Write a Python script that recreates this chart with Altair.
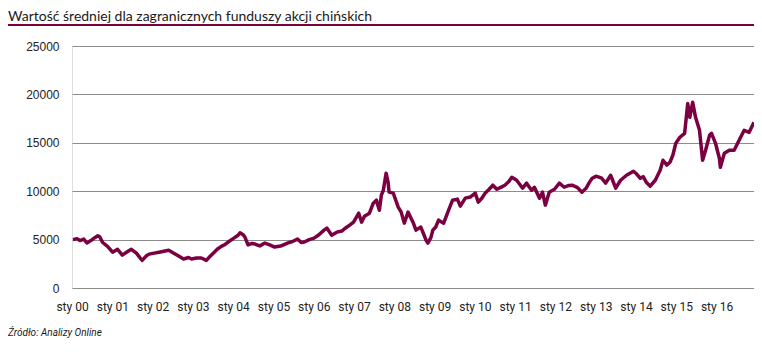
import altair as alt
import pandas as pd

TITLE = "Wartość średniej dla zagranicznych funduszy akcji chińskich"
SOURCE = "Źródło: Analizy Online"

dates = [
    "2000-01-10", "2000-02-15", "2000-03-13", "2000-04-17", "2000-05-15", "2000-06-20",
    "2000-07-25", "2000-08-22", "2000-09-08", "2000-10-05", "2000-11-18", "2001-01-03",
    "2001-02-17", "2001-04-01", "2001-05-16", "2001-06-22", "2001-08-07", "2001-09-10",
    "2001-09-28", "2001-11-03", "2001-11-30", "2002-01-15", "2002-03-01", "2002-04-13",
    "2002-05-27", "2002-07-12", "2002-08-25", "2002-10-08", "2002-11-23", "2002-12-20",
    "2003-02-03", "2003-03-19", "2003-05-03", "2003-06-09", "2003-07-05", "2003-08-10",
    "2003-09-16", "2003-10-20", "2003-11-17", "2004-01-01", "2004-02-15", "2004-03-03",
    "2004-04-01", "2004-04-17", "2004-05-15", "2004-06-20", "2004-07-17", "2004-08-30",
    "2004-10-15", "2004-11-28", "2005-01-11", "2005-03-06", "2005-05-08", "2005-06-22",
    "2005-08-07", "2005-09-10", "2005-10-07", "2005-11-21", "2006-01-04", "2006-02-17",
    "2006-04-04", "2006-04-30", "2006-06-13", "2006-07-29", "2006-09-12", "2006-10-17",
    "2006-11-23", "2006-12-28", "2007-02-13", "2007-03-11", "2007-04-06", "2007-05-21",
    "2007-06-25", "2007-07-23", "2007-08-19", "2007-09-06", "2007-09-24", "2007-10-19",
    "2007-11-06", "2007-11-15", "2007-12-23", "2008-02-06", "2008-03-04", "2008-04-01",
    "2008-05-05", "2008-06-19", "2008-07-16", "2008-08-29", "2008-09-26", "2008-10-15",
    "2008-11-01", "2008-11-28", "2008-12-16", "2009-01-11", "2009-02-06", "2009-03-24",
    "2009-05-08", "2009-06-13", "2009-07-27", "2009-08-22", "2009-10-06", "2009-11-20",
    "2010-01-04", "2010-02-01", "2010-03-07", "2010-04-04", "2010-05-10", "2010-06-13",
    "2010-07-19", "2010-08-24", "2010-09-30", "2010-11-05", "2010-12-02", "2011-01-15",
    "2011-03-10", "2011-04-15", "2011-05-30", "2011-06-25", "2011-08-10", "2011-09-06",
    "2011-10-02", "2011-11-06", "2011-12-24", "2012-02-06", "2012-03-21", "2012-05-04",
    "2012-06-01", "2012-07-16", "2012-08-29", "2012-10-05", "2012-10-31", "2012-11-27",
    "2013-01-03", "2013-01-30", "2013-02-24", "2013-04-01", "2013-05-16", "2013-06-11",
    "2013-07-01", "2013-08-14", "2013-10-07", "2013-12-09", "2014-01-05", "2014-02-09",
    "2014-03-07", "2014-04-04", "2014-05-10", "2014-06-25", "2014-08-08", "2014-09-03",
    "2014-10-08", "2014-11-05", "2014-12-01", "2014-12-28", "2015-02-03", "2015-03-18",
    "2015-04-15", "2015-05-04", "2015-05-30", "2015-06-25", "2015-07-31", "2015-08-28",
    "2015-09-24", "2015-10-30", "2015-11-17", "2015-12-23", "2016-01-27", "2016-02-05",
    "2016-03-12", "2016-04-26", "2016-06-09", "2016-07-24", "2016-09-08", "2016-10-23",
    "2016-12-06",
]

values = [
    5000, 5100, 4900, 5050, 4650, 4900,
    5200, 5400, 5300, 4700, 4300, 3700,
    4000, 3400, 3750, 4000, 3600, 3100,
    2850, 3300, 3500, 3600, 3700, 3800,
    3900, 3600, 3300, 3000, 3150, 3000,
    3100, 3100, 2850, 3300, 3600, 4000,
    4300, 4500, 4750, 5100, 5450, 5700,
    5500, 5260, 4450, 4600, 4540, 4350,
    4640, 4450, 4230, 4330, 4640, 4800,
    5050, 4700, 4750, 5000, 5150, 5500,
    5980, 6190, 5460, 5770, 5880, 6200,
    6500, 6800, 7730, 6800, 7420, 7730,
    8760, 9070, 8040, 9590, 10100, 11860,
    10930, 9900, 9800, 8350, 7840, 6700,
    7840, 6800, 5980, 6290, 5500, 4950,
    4640, 5200, 5980, 6300, 7010, 6700,
    8040, 9070, 9180, 8450, 9280, 9400,
    9800, 8870, 9300, 9800, 10200, 10620,
    10200, 10400, 10620, 11000, 11440, 11130,
    10310, 10830, 10100, 10410, 9280, 9900,
    8560, 9900, 10200, 10830, 10410, 10600,
    10620, 10400, 9900, 10300, 10830, 11300,
    11550, 11450, 11340, 10830, 11650, 10900,
    10310, 11130, 11650, 12060, 11800, 11340,
    11500, 10930, 10520, 11130, 12160, 13200,
    12700, 12990, 13710, 14950, 15570, 15980,
    19070, 17630, 19180, 17630, 16290, 13200,
    14230, 15770, 15980, 14950, 13400, 12470,
    13920, 14230, 14230, 15260, 16290, 16080,
    17110,
]

y_ticks = [0, 5000, 10000, 15000, 20000, 25000]
x_domain = ["2000-01-01", "2016-12-06"]

COLOR = "#7b0041"
W, H = 682, 242
PAD_L, PAD_T = 64, 38

df = pd.DataFrame({"date": pd.to_datetime(dates), "value": values})

line = alt.Chart(df).mark_line(color=COLOR, strokeWidth=3.5, strokeJoin="round").encode(
    x=alt.X(
        "date:T",
        scale=alt.Scale(domain=x_domain),
        axis=alt.Axis(
            title=None,
            grid=False,
            domain=False,
            ticks=False,
            tickCount={"interval": "year", "step": 1},
            labelExpr="'sty ' + timeFormat(datum.value, '%y')",
            labelFont="Roboto",
            labelFontSize=12,
            labelColor="#222222",
            labelPadding=13,
            labelAlign="center",
            labelOverlap=False,
        ),
    ),
    y=alt.Y(
        "value:Q",
        scale=alt.Scale(domain=[0, 25000], nice=False),
        axis=alt.Axis(
            title=None,
            values=y_ticks,
            format="d",
            grid=True,
            gridColor="#8c8c8c",
            gridWidth=1,
            domain=False,
            ticks=False,
            labelFont="Liberation Sans",
            labelFontSize=12,
            labelColor="#222222",
            labelPadding=13,
        ),
    ),
)

title_df = pd.DataFrame({"t": [TITLE]})
title = alt.Chart(title_df).mark_text(
    align="left", baseline="alphabetic", font="Lato", fontSize=14, color="#1a1a1a"
).encode(text="t:N", x=alt.value(-PAD_L), y=alt.value(-25))

underline = alt.Chart(title_df).mark_rule(color=COLOR, strokeWidth=2).encode(
    x=alt.value(-PAD_L), x2=alt.value(W), y=alt.value(-21)
)

source_df = pd.DataFrame({"t": [SOURCE]})
source = alt.Chart(source_df).mark_text(
    align="left", baseline="middle", font="Roboto", fontSize=10, fontStyle="italic", color="#1a1a1a"
).encode(text="t:N", x=alt.value(-PAD_L), y=alt.value(287))

chart = alt.layer(line, underline, title, source).properties(
    width=W,
    height=H,
    autosize=alt.AutoSizeParams(type="none"),
    padding={"left": PAD_L, "top": PAD_T, "right": 0, "bottom": 52},
).configure_view(stroke=None).configure(background="white")

chart.save("out.html", embed_options={"renderer": "svg", "actions": False})
